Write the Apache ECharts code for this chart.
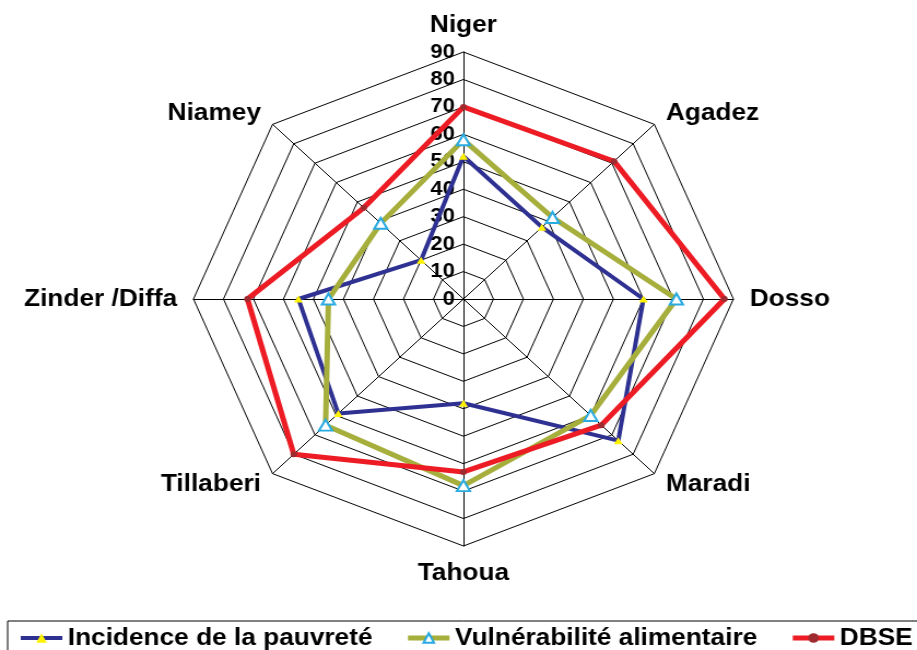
<!DOCTYPE html>
<html>
<head>
<meta charset="utf-8">
<script src="https://cdn.jsdelivr.net/npm/echarts@6/dist/echarts.min.js"></script>
<style>
html, body { margin: 0; padding: 0; background: #fff; overflow: hidden; }
/* le graphique d'origine est étiré horizontalement */
#main { width: 839px; height: 650px; transform: scaleX(1.093); transform-origin: 0 0; }
</style>
</head>
<body>
<div id="main"></div>
<script>
// régions, dans le sens horaire à partir du haut
var regions = ['Niger', 'Agadez', 'Dosso', 'Maradi', 'Tahoua', 'Tillaberi', 'Zinder /Diffa', 'Niamey'];
var incidence = [52, 37, 60, 73, 38, 59, 55, 20];
var vulnerabilite = [58, 42, 71, 60, 68, 65, 45, 39];
var dbse = [70, 71, 87, 65, 63, 80, 72, 47];
var axisMax = 90;
var axisSteps = 9;

var seriesNames = ['Incidence de la pauvreté', 'Vulnérabilité alimentaire', 'DBSE'];

// echarts place les axes dans le sens anti-horaire
function ccw(arr) {
	return [arr[0]].concat(arr.slice(1).reverse());
}

var chart = echarts.init(document.getElementById('main'));

var indicators = ccw(regions).map(function (n, i) {
	var ind = { name: n, min: 0, max: axisMax };
	if (i === 0) {
		ind.axisLabel = { show: true, color: '#000', fontSize: 20, fontWeight: 'bold', margin: 8 };
	}
	return ind;
});

var option = {
	animation: false,
	backgroundColor: '#fff',
	textStyle: { fontFamily: 'Liberation Sans, Arial, sans-serif' },
	legend: {
		left: 7,
		top: 621,
		width: 1000,
		padding: [5, 13, 10, 10],
		borderColor: '#000',
		borderWidth: 1,
		itemWidth: 38,
		itemHeight: 12,
		itemGap: 30,
		textStyle: { color: '#000', fontSize: 24, fontWeight: 'bold' },
		data: [
			{ name: seriesNames[0], lineStyle: { width: 4 } },
			{ name: seriesNames[1], lineStyle: { width: 5 } },
			{ name: seriesNames[2], lineStyle: { width: 5 } }
		]
	},
	grid: { show: false, left: 0, top: 0, width: 10, height: 10 },
	xAxis: { show: false, type: 'category', data: [] },
	yAxis: { show: false, type: 'value' },
	radar: {
		center: [424, 299],
		radius: 247,
		startAngle: 90,
		shape: 'polygon',
		splitNumber: axisSteps,
		nameGap: 15,
		axisName: { color: '#000', fontSize: 24, fontWeight: 'bold' },
		axisLine: { lineStyle: { color: '#000', width: 1 } },
		splitLine: { lineStyle: { color: '#000', width: 1 } },
		splitArea: { show: false },
		axisTick: { show: false },
		axisLabel: { show: false },
		indicator: indicators
	},
	series: [
		// séries vides, seulement pour les icônes de la légende
		{ type: 'line', name: seriesNames[0], data: [], symbol: 'triangle', itemStyle: { color: '#FFF200' }, lineStyle: { color: '#2E3192', width: 4 } },
		{ type: 'line', name: seriesNames[1], data: [], symbol: 'emptyTriangle', itemStyle: { color: '#29ABE2', borderColor: '#29ABE2', borderWidth: 1.5 }, lineStyle: { color: '#A6AE3C', width: 5 } },
		{ type: 'line', name: seriesNames[2], data: [], symbol: 'circle', itemStyle: { color: '#9E2B2F' }, lineStyle: { color: '#ED1C24', width: 5 } },
		{
			type: 'radar', name: seriesNames[0],
			symbol: 'triangle', symbolSize: [8, 7],
			itemStyle: { color: '#FFF200' },
			lineStyle: { color: '#2E3192', width: 4 },
			data: [{ value: ccw(incidence), name: seriesNames[0] }],
			z: 3
		},
		{
			type: 'radar', name: seriesNames[1],
			symbol: 'emptyTriangle', symbolSize: [12, 11],
			itemStyle: { color: '#29ABE2', borderWidth: 1.5 },
			lineStyle: { color: '#A6AE3C', width: 5 },
			data: [{ value: ccw(vulnerabilite), name: seriesNames[1] }],
			z: 4
		},
		{
			type: 'radar', name: seriesNames[2],
			symbol: 'circle', symbolSize: 6,
			itemStyle: { color: '#9E2B2F' },
			lineStyle: { color: '#ED1C24', width: 5 },
			data: [{ value: ccw(dbse), name: seriesNames[2] }],
			z: 5
		}
	]
};

chart.setOption(option);
</script>
</body>
</html>
